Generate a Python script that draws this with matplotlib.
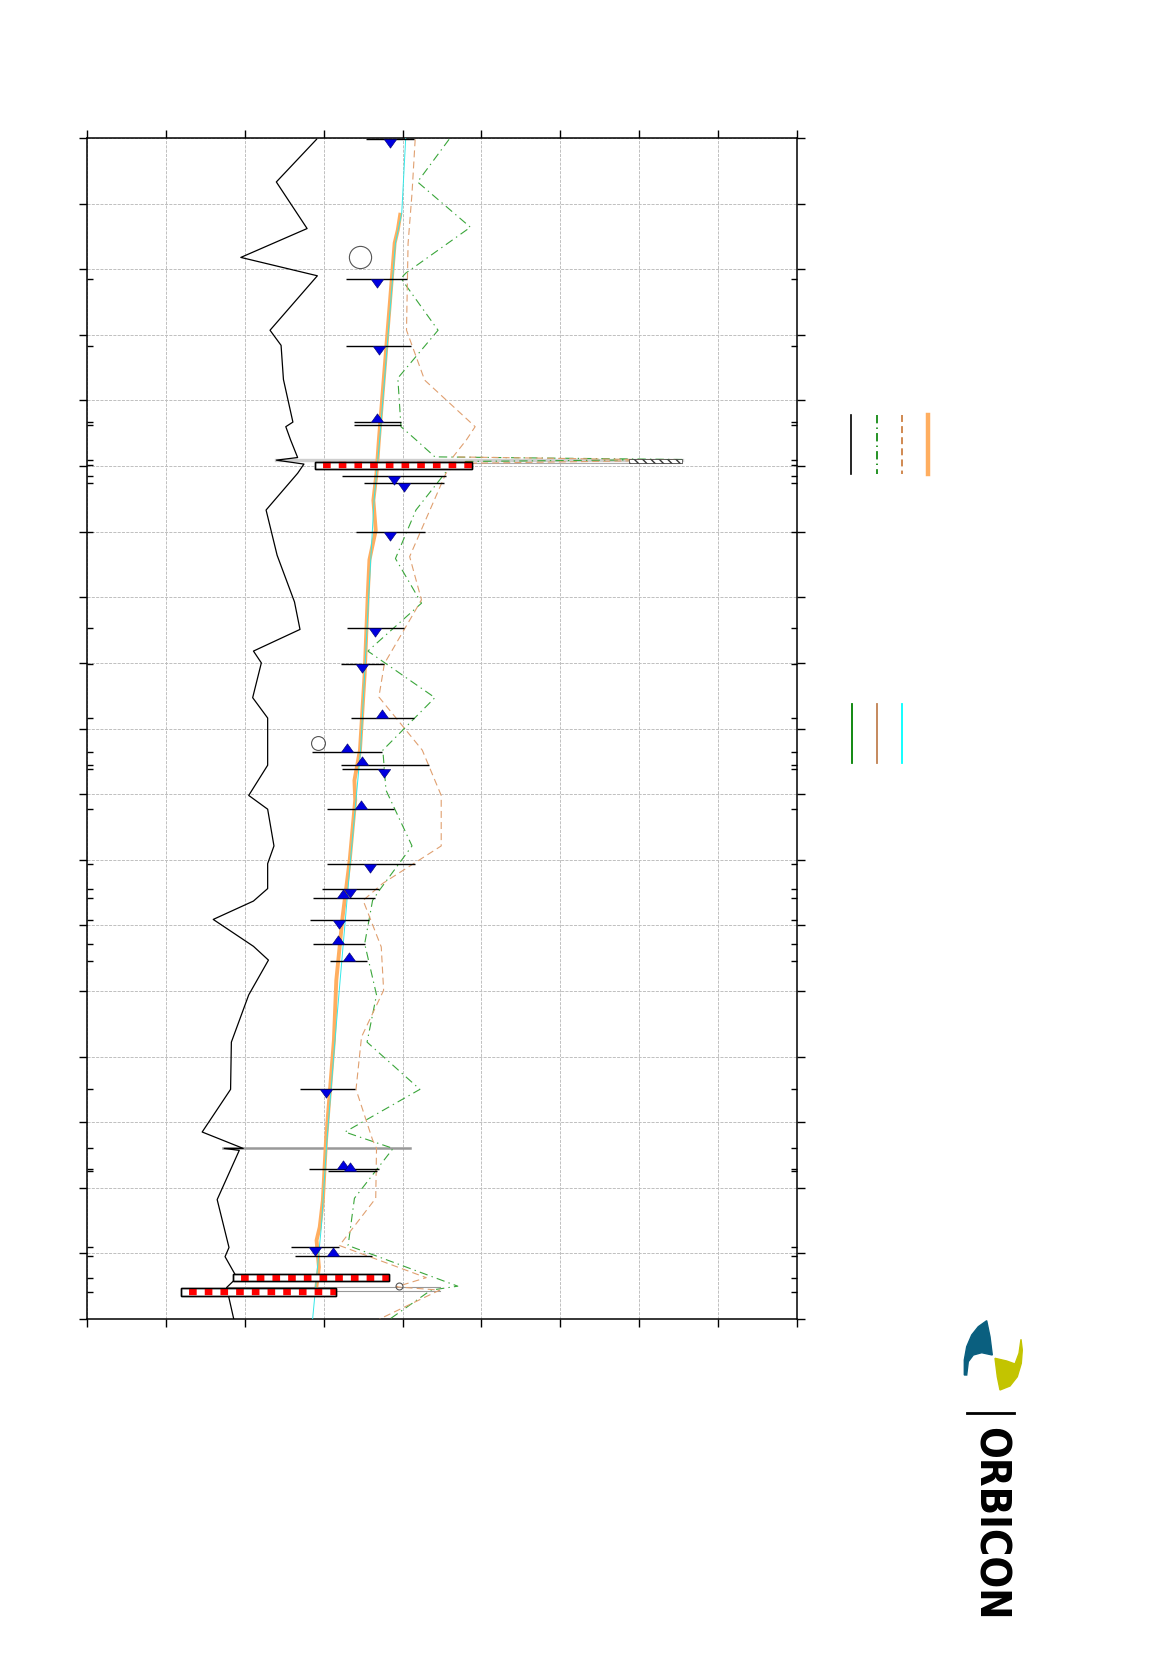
import numpy as np
import matplotlib.pyplot as plt
from matplotlib.lines import Line2D
from matplotlib.patches import Polygon, Rectangle

plt.rcParams['lines.scale_dashes'] = False

# station (m) along the stream, kote (m) - profile is drawn rotated
terrain_st = [2, 67, 138, 182, 210, 293, 316, 368, 433, 440, 460, 487, 491, 497, 511, 567, 636, 707,
              749, 782, 800, 853, 884, 923, 956, 1002, 1023, 1079, 1106, 1144, 1163, 1191, 1232, 1253,
              1306, 1378, 1450, 1515, 1540, 1540, 1543, 1618, 1691, 1705, 1737, 1752, 1800]
terrain_k = [16.91, 16.40, 16.79, 15.95, 16.92, 16.32, 16.46, 16.49, 16.61, 16.52, 16.58, 16.67, 16.40,
             16.75, 16.67, 16.27, 16.41, 16.63, 16.70, 16.11, 16.21, 16.10, 16.29, 16.29, 16.29, 16.05,
             16.29, 16.37, 16.29, 16.29, 16.11, 15.60, 16.11, 16.30, 16.05, 15.83, 15.82, 15.46, 15.98,
             15.74, 15.93, 15.65, 15.80, 15.75, 15.90, 15.77, 15.86]

calc_st = [117, 140, 160, 460, 511, 552, 598, 643, 694, 816, 933, 979, 1009, 1101, 1187, 1284, 1375,
           1527, 1619, 1660, 1680, 1721, 1749]
calc_k = [17.97, 17.94, 17.90, 17.70, 17.67, 17.63, 17.66, 17.58, 17.56, 17.52, 17.46, 17.39, 17.40,
          17.33, 17.24, 17.16, 17.13, 17.03, 16.99, 16.95, 16.91, 16.94, 16.91]

calc2_st = [0, 114, 160, 460, 550, 700, 930, 1100, 1380, 1530, 1660, 1800]
calc2_k = [18.04, 17.99, 17.91, 17.71, 17.64, 17.57, 17.47, 17.34, 17.14, 17.04, 16.97, 16.86]

bank_l_st = [2, 67, 136, 206, 214, 293, 366, 440, 460, 486, 490, 493, 506, 567, 641, 709, 782, 853,
             933, 994, 1079, 1146, 1162, 1228, 1306, 1378, 1450, 1515, 1540, 1616, 1688, 1750, 1756, 1800]
bank_l_k = [18.59, 18.19, 18.86, 18.04, 17.98, 18.45, 17.94, 17.98, 18.17, 18.41, 21.54, 18.80, 18.57,
            18.17, 17.91, 18.24, 17.56, 18.41, 17.75, 17.79, 18.12, 17.71, 17.62, 17.52, 17.67, 17.55,
            18.22, 17.27, 17.88, 17.39, 17.31, 18.70, 18.36, 17.84]

bank_r_st = [2, 84, 161, 293, 369, 440, 460, 486, 491, 496, 511, 638, 704, 801, 852, 933, 1002, 1079,
             1136, 1162, 1233, 1299, 1370, 1450, 1527, 1540, 1616, 1688, 1737, 1751, 1756, 1800]
bank_r_k = [18.16, 18.12, 18.07, 18.05, 18.28, 18.92, 18.81, 18.64, 21.50, 18.70, 18.55, 18.09, 18.24,
            17.77, 17.70, 18.25, 18.49, 18.49, 17.75, 17.50, 17.73, 17.76, 17.48, 17.41, 17.62, 17.67,
            17.66, 17.20, 18.30, 17.92, 18.47, 17.71]

# measured water levels with cross section width
obs_st = [2, 215, 317, 433, 438, 515, 526, 601, 747, 801, 884, 936, 956, 961, 1023, 1106, 1145, 1159,
          1192, 1229, 1254, 1449, 1571, 1575, 1690, 1704]
obs_left = [17.54, 17.28, 17.28, 17.39, 17.39, 17.23, 17.51, 17.41, 17.29, 17.22, 17.35, 16.85, 17.22,
            17.23, 17.04, 17.04, 16.98, 16.87, 16.83, 16.87, 17.08, 16.70, 16.81, 17.06, 16.59, 16.64]
obs_right = [18.15, 18.05, 18.11, 17.98, 17.98, 18.55, 18.53, 18.28, 18.02, 17.77, 18.15, 17.74, 18.33,
             17.77, 17.89, 18.16, 17.70, 17.65, 17.58, 17.52, 17.55, 17.40, 17.70, 17.67, 17.19, 17.61]
obs_wl = [17.84, 17.67, 17.70, 17.67, None, 17.89, 18.02, 17.84, 17.65, 17.49, 17.74, 17.29, 17.49,
          17.77, 17.47, 17.59, 17.34, 17.25, 17.19, 17.18, 17.32, 17.03, 17.24, 17.33, 16.89, 17.12]
obs_dir = ['d', 'd', 'd', 'u', '', 'd', 'd', 'd', 'd', 'd', 'u', 'u', 'u', 'd', 'u', 'd', 'd', 'u',
           'd', 'u', 'u', 'd', 'u', 'u', 'd', 'u']

# culverts (red/white)
pipe_st = [499, 1737, 1759]
pipe_left = [16.89, 15.85, 15.19]
pipe_right = [18.88, 17.83, 17.16]

# other structures (grey)
struct_st = [491, 1540, 1751, 1757]
struct_left = [16.40, 15.73, 15.77, 15.77]
struct_right = [21.54, 18.09, 18.47, 18.47]

W, H = 1169, 1654
fig = plt.figure(figsize=(11.69, 16.54), dpi=100)


def fx(px):
    return px / W


def fy(py):
    return 1 - py / H


ax = fig.add_axes([fx(87), fy(1319), fx(797) - fx(87), fy(138) - fy(1319)])
ax.set_xlim(14, 23)
ax.set_ylim(1800, 0)
ax.set_xticks(np.arange(14, 23.01, 1))
ax.set_yticks(np.arange(0, 1801, 100))
ax.set_yticks([s for s in obs_st[1:]] + pipe_st + struct_st[:2], minor=True)
ax.tick_params(top=True, right=True, labelbottom=False, labelleft=False,
               direction='out', length=6, width=1)
ax.tick_params(which='minor', left=True, right=True, direction='in', length=4, width=1)
ax.grid(True, color='#c0c0c0', linestyle=(0, (2.2, 0.9)), linewidth=0.7)
for sp in ax.spines.values():
    sp.set_linewidth(1.1)
ax.set_axisbelow(True)

# structures
for s, l, r in zip(struct_st, struct_left, struct_right):
    lw = 2.4 if s == struct_st[0] else (1.8 if s == struct_st[1] else 0.8)
    col = '#cfcfcf' if s == struct_st[0] else '#999999'
    ax.plot([l, r], [s, s], color=col, lw=lw, zorder=2)
ax.plot([18.89, 21.54], [496, 496], color='#aaaaaa', lw=0.8, zorder=2)

ax.plot(terrain_k, terrain_st, color='black', lw=0.9, zorder=4)
ax.plot(bank_l_k, bank_l_st, color='#3aa63a', lw=0.8, linestyle=(0, (6, 3, 1, 3)), zorder=4)
ax.plot(bank_r_k, bank_r_st, color='#e0a070', lw=0.8, linestyle=(0, (5, 3)), zorder=4)
ax.plot(calc_k, calc_st, color='#ffae60', lw=2.8, zorder=5)
ax.plot(calc2_k, calc2_st, color='#33e8e8', lw=0.7, zorder=6)
ax.add_patch(Rectangle((20.87, 490), 0.67, 6, facecolor='white', hatch='\\\\\\\\', lw=0.5,
                       edgecolor='#333333', zorder=6))

# observed levels
ax.hlines(obs_st, obs_left, obs_right, color='black', lw=1.0, zorder=7)
tri_down = [(-0.5, 0), (0.5, 0), (0, -0.7), (-0.5, 0)]
tri_up = [(-0.5, 0), (0.5, 0), (0, 0.7), (-0.5, 0)]
for s, w, d in zip(obs_st, obs_wl, obs_dir):
    if w is None:
        continue
    ax.plot(w, s, marker=tri_down if d == 'd' else tri_up, ms=12.5, color='#0000e0',
            mec='#000066', mew=0.4, zorder=8)

ax.plot(17.46, 182, 'o', mfc='none', mec='#555555', ms=16, mew=0.8, zorder=6)
ax.plot(16.93, 922, 'o', mfc='none', mec='#555555', ms=10, mew=0.8, zorder=6)
ax.plot(17.95, 1750, 'o', mfc='none', mec='#555555', ms=5, mew=0.8, zorder=6)

# culverts
for s, l, r in zip(pipe_st, pipe_left, pipe_right):
    ax.barh(s, r - l, left=l, height=11, color='white', edgecolor='black', lw=1.0, zorder=9)
    ax.plot([l, r], [s, s], color='red', lw=4.6, solid_capstyle='butt',
            linestyle=(5.5, (5.5, 5.8)), zorder=10)
    ax.barh(s, r - l, left=l, height=11, fill=False, edgecolor='black', lw=1.0, zorder=11)

# legend samples (no text)
leg1 = [('black', '-', 1.2), ('#008000', (0, (6, 3, 1, 3)), 1.2),
        ('#c87533', (0, (5, 3)), 1.2), ('#ffae60', '-', 3.2)]
for i, (c, ls, lw) in enumerate(leg1):
    x = fx(851 + i * 25.5)
    fig.add_artist(Line2D([x, x], [fy(415), fy(474)], color=c, linestyle=ls, lw=lw))
leg2 = [('#008000', 1.3), ('#c08050', 1.3), ('#00ffff', 1.3)]
for i, (c, lw) in enumerate(leg2):
    x = fx(852 + i * 25)
    fig.add_artist(Line2D([x, x], [fy(704), fy(763)], color=c, lw=lw))

# logo
teal = [(986.7, 1320.7), (978.3, 1326.7), (971.7, 1335), (966.7, 1346.7), (964.3, 1360),
        (964.3, 1375), (966.7, 1375), (968.3, 1361.7), (973.3, 1355), (981.7, 1352.7),
        (992.3, 1355), (990, 1336.7)]
yellow = [(995, 1358.3), (1006.7, 1361), (1015, 1364), (1019, 1353.3), (1021, 1339.3),
          (1022.3, 1350), (1021.3, 1363.3), (1017.3, 1376.7), (1010, 1386), (1000, 1390),
          (997.3, 1376.7)]
fig.add_artist(Polygon([(fx(a), fy(b)) for a, b in teal], closed=True, color='#0a5f7f',
                       transform=fig.transFigure))
fig.add_artist(Polygon([(fx(a), fy(b)) for a, b in yellow], closed=True, color='#c3c400',
                       transform=fig.transFigure))
fig.add_artist(Line2D([fx(967), fx(1014)], [fy(1413), fy(1413)], color='black', lw=2))
fig.text(fx(990), fy(1524), 'ORBICON', rotation=-90, ha='center', va='center',
         fontsize=30, fontweight='bold', fontstretch='condensed', family='DejaVu Sans')

fig.savefig('out.png', dpi=100)
